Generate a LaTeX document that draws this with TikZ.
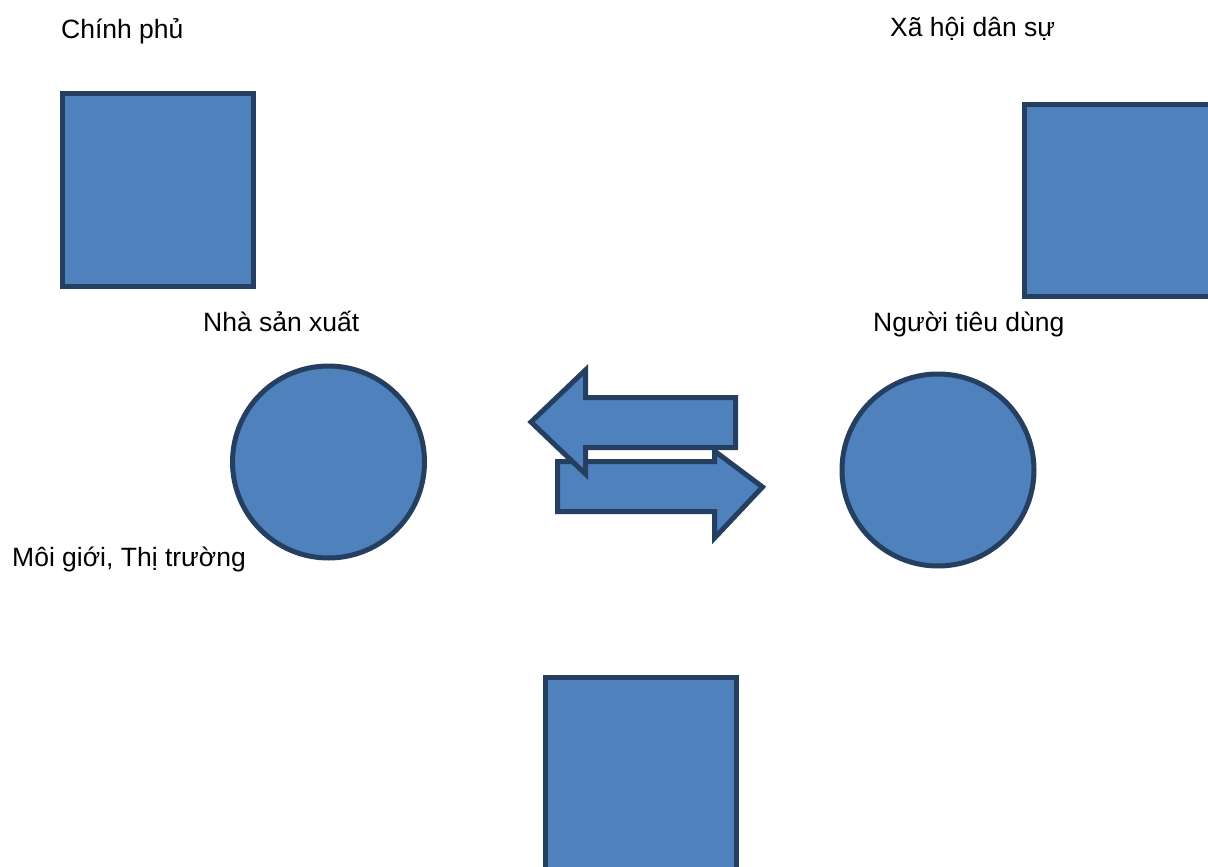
\documentclass[tikz,border=0pt]{standalone}
\usepackage{fontspec}
\setmainfont{Liberation Sans}
\definecolor{shapefill}{HTML}{4F81BD}
\definecolor{shapeline}{HTML}{243F60}
\begin{document}
\begin{tikzpicture}[x=1pt,y=-1pt,
  blueshape/.style={fill=shapefill,draw=shapeline,line width=5pt},
  sq/.style={blueshape,rectangle,inner sep=0pt,minimum width=191pt,minimum height=192pt},
  circ/.style={blueshape,circle,inner sep=0pt,minimum size=192pt},
  lbl/.style={anchor=base west,inner sep=0pt,font=\fontsize{26.5}{30}\selectfont}]
\useasboundingbox (0,0) rectangle (1208,867);
\clip (0,0) rectangle (1208,867);
% squares
\node[sq] (gov) at (157.5,190) {};
\node[sq] (civil) at (1119.5,200.5) {};
\node[sq] (market) at (640.5,773.5) {};
% circles
\node[circ] (prod) at (328.5,462) {};
\node[circ] (cons) at (938,470) {};
% arrows
\coordinate (ra) at (557.5,461.5);
\draw[blueshape,line join=miter] (ra) -- (714.5,461.5) -- (714.5,451) -- (762.5,487)
  -- (714.5,538) -- (714.5,511.5) -- (557.5,511.5) -- cycle;
\coordinate (la) at (531,422);
\draw[blueshape,line join=miter] (la) -- (585.5,370) -- (585.5,397.5) -- (735.5,397.5)
  -- (735.5,447.5) -- (585.5,447.5) -- (585.5,474) -- cycle;
% labels
\node[lbl] (tgov) at (61,39) {Chính phủ};
\node[lbl] (tcivil) at (890,37) {Xã hội dân sự};
\node[lbl] (tprod) at (203,331) {Nhà sản xuất};
\node[lbl] (tcons) at (873,331) {Người tiêu dùng};
\node[lbl] (tmarket) at (12,566) {Môi giới, Thị trường};
\end{tikzpicture}
\end{document}
